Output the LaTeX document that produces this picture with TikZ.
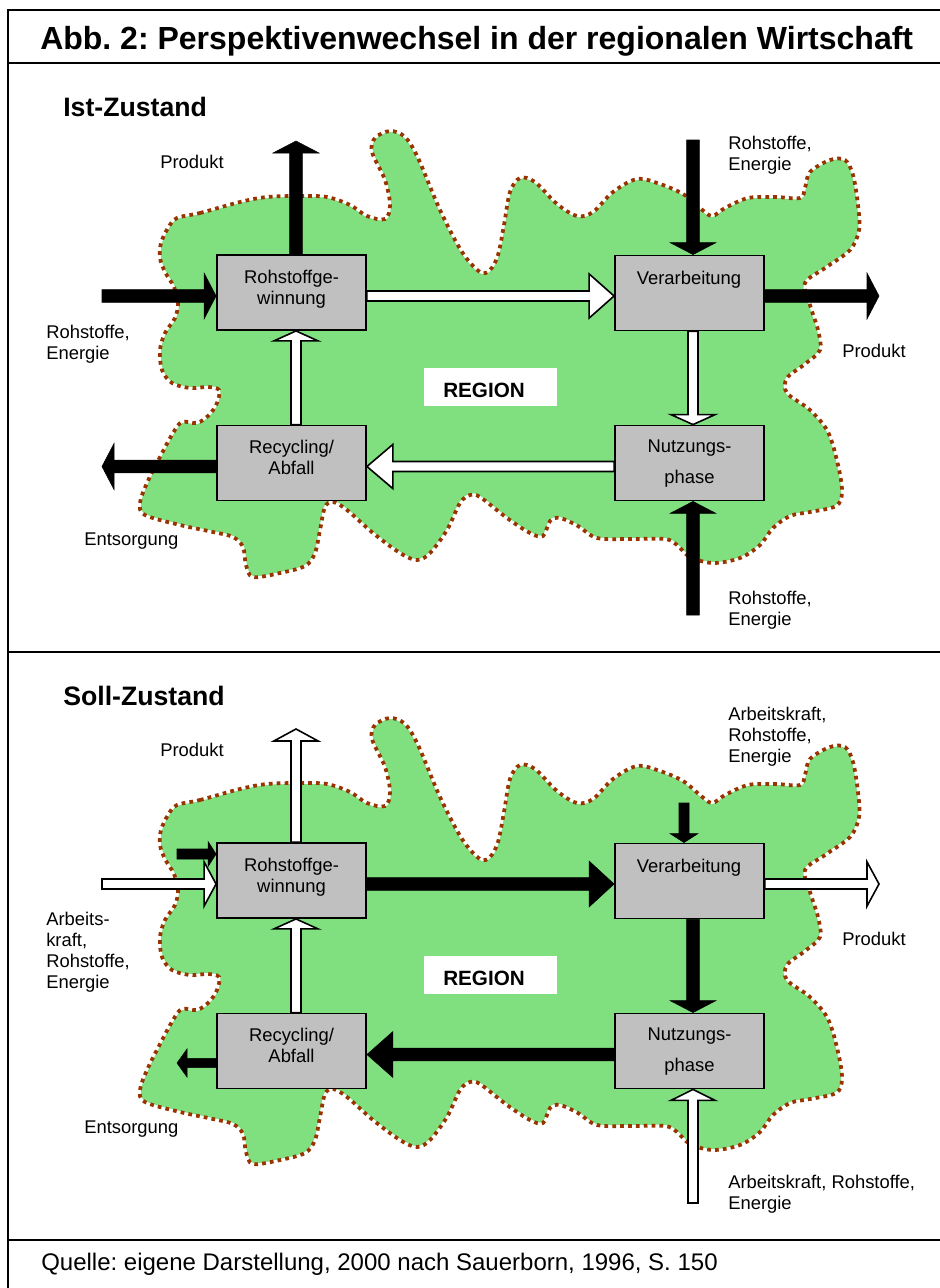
\documentclass[tikz,border=0pt]{standalone}
\usepackage{fontspec}
\setmainfont{Liberation Sans}
\usetikzlibrary{calc}
\frenchspacing
\definecolor{blobgreen}{RGB}{128,224,128}
\definecolor{dotbrown}{RGB}{153,51,0}
\definecolor{boxgray}{RGB}{192,192,192}
\pgfdeclarelayer{background}
\pgfdeclarelayer{foreground}
\pgfsetlayers{background,main,foreground}

% block arrow: #1 style, #2 start, #3 tip, #4 half shaft width, #5 half head width, #6 head length
\newcommand{\blockarrow}[6]{%
  \coordinate (bahead) at ($(#3)!#6!(#2)$);
  \draw[#1] ($(#2)!#4!90:(#3)$) -- ($(bahead)!#4!-90:(#2)$) -- ($(bahead)!#5!-90:(#2)$) -- (#3)
     -- ($(bahead)!#5!90:(#2)$) -- ($(bahead)!#4!90:(#2)$) -- ($(#2)!#4!-90:(#3)$) -- cycle;
}

\newcommand{\regionblob}[1]{%
  \path[shift={(0,#1)}, fill=blobgreen,
        postaction={draw=white, line width=1.4pt},
        postaction={draw=dotbrown, line width=2.8pt, dash pattern=on 2.8pt off 3.1pt}]
  plot[smooth cycle, tension=0.55] coordinates {
   (177,218) (200,213) (240,202) (267,197) (300,196) (327,197) (350,205) (367,216) (385,219)
   (390,205) (385,180) (372,152) (375,138) (390,131) (405,137) (418,158) (440,210) (462,252)
   (480,272) (490,270) (498,255) (504,225) (510,192) (520,178) (535,182) (557,204) (577,216)
   (593,212) (613,192) (637,179) (660,184) (683,194) (700,208) (712,216) (725,208) (748,198)
   (775,197) (800,198) (805,188) (810,172) (830,160) (845,160) (853,175) (858,205) (859,230)
   (850,250) (825,268) (805,283) (810,305) (818,330) (820,350) (805,364) (787,378) (787,393)
   (810,410) (828,432) (838,465) (842,492) (836,506) (810,512) (790,516) (773,528) (760,545)
   (740,558) (713,563) (690,557) (677,545) (665,539) (630,539) (597,538) (578,526) (560,518)
   (550,521) (543,536) (530,533) (507,518) (480,497) (470,495) (460,503) (447,530) (430,553)
   (417,560) (400,553) (373,533) (347,510) (333,502) (325,507) (320,530) (315,553) (305,566)
   (280,573) (253,577) (246,565) (243,547) (233,537) (213,532) (180,525) (145,515) (140,503)
   (147,483) (160,457) (173,433) (182,422) (197,423) (209,415) (217,403) (219,390) (208,387)
   (190,388) (172,383) (162,370) (160,350) (165,333) (175,318) (178,303) (174,287) (165,272)
   (160,258) (161,243) (168,228)};
}

\tikzset{
  frame/.style={draw=black, line width=1.4pt},
  bx/.style={draw=black, line width=1.4pt, fill=boxgray, minimum width=111.75pt, minimum height=56.25pt, inner sep=0pt},
  btxt/.style={font=\fontsize{13.8}{15.75}\selectfont, inner sep=0pt, align=center, anchor=north},
  lbl/.style={font=\fontsize{13.8}{15.75}\selectfont, inner sep=0pt, align=left, anchor=north west},
  blk/.style={fill=black},
  wht/.style={fill=white, draw=black, line width=1.2pt},
  regbox/.style={fill=white, minimum width=99.75pt, minimum height=28.5pt, inner sep=0pt},
  regtxt/.style={font=\fontsize{15.5}{18}\selectfont\bfseries, inner sep=0pt, anchor=base west},
  heading/.style={font=\fontsize{20}{24}\selectfont\bfseries, inner sep=0pt, anchor=base west}
}

\begin{document}
\begin{tikzpicture}[x=0.75pt, y=-0.75pt]
\useasboundingbox (0,0) rectangle (939,1288);

% frame
\draw[frame] (8,1290) -- (8,10) -- (950,10);
\draw[frame] (8,63) -- (950,63);
\draw[frame] (8,652) -- (950,652);
\draw[frame] (8,1240) -- (950,1240);

\node[inner sep=0pt, anchor=base west, font=\fontsize{24}{28}\selectfont\bfseries] (title) at (40,50)
  {Abb. 2: Perspektivenwechsel in der regionalen Wirtschaft};
\node[inner sep=0pt, anchor=base west, font=\fontsize{18}{22}\selectfont] (quelle) at (41,1270)
  {Quelle: eigene Darstellung, 2000 nach Sauerborn, 1996, S. 150};

\node[heading] (ist) at (63,117) {Ist-Zustand};
\node[heading] (soll) at (63,705) {Soll-Zustand};

% regions
\begin{pgfonlayer}{background}
  \regionblob{0}
  \regionblob{587}
  \node[regbox] (reg1) at (490.5,387) {};
  \node[regbox] (reg2) at (490.5,975) {};
\end{pgfonlayer}
\node[regtxt] (reg1t) at (443,397) {REGION};
\node[regtxt] (reg2t) at (443,985) {REGION};

% boxes
\begin{pgfonlayer}{foreground}
  \node[bx] (rw) at (291.5,292.5) {};
  \node[bx] (vb) at (689.5,293) {};
  \node[bx] (rc) at (291.5,463) {};
  \node[bx] (nu) at (689.5,463) {};
  \node[btxt] (rwt) at (291.5,270) {Rohstoffge-\\winnung};
  \node[btxt] (vbt) at (689,270.5) {Verarbeitung};
  \node[btxt] (rct) at (291.5,439.5) {Recycling/\\Abfall};
  \node[btxt] (nut) at (689.5,439.5) {Nutzungs-\\[7.5pt]phase};

  \node[bx] (rw2) at (291.5,880.5) {};
  \node[bx] (vb2) at (689.5,881) {};
  \node[bx] (rc2) at (291.5,1051) {};
  \node[bx] (nu2) at (689.5,1051) {};
  \node[btxt] (rw2t) at (291.5,858) {Rohstoffge-\\winnung};
  \node[btxt] (vb2t) at (689,858.5) {Verarbeitung};
  \node[btxt] (rc2t) at (291.5,1027.5) {Recycling/\\Abfall};
  \node[btxt] (nu2t) at (689.5,1027.5) {Nutzungs-\\[7.5pt]phase};
\end{pgfonlayer}

% labels Ist
\node[lbl] (l1) at (160,155) {Produkt};
\node[lbl] (l2) at (728,136) {Rohstoffe,\\Energie};
\node[lbl] (l3) at (46,325) {Rohstoffe,\\Energie};
\node[lbl] (l4) at (842,344) {Produkt};
\node[lbl] (l5) at (84,533) {Entsorgung};
\node[lbl] (l6) at (728,591) {Rohstoffe,\\Energie};
% labels Soll
\node[lbl] (m1) at (160,743) {Produkt};
\node[lbl] (m2) at (728,707) {Arbeitskraft,\\Rohstoffe,\\Energie};
\node[lbl] (m3) at (46,912) {Arbeits-\\kraft,\\Rohstoffe,\\Energie};
\node[lbl] (m4) at (842,932) {Produkt};
\node[lbl] (m5) at (84,1121) {Entsorgung};
\node[lbl] (m6) at (728,1175) {Arbeitskraft, Rohstoffe,\\Energie};

% free arrow ends
\coordinate (i1e) at (296,141);
\coordinate (i2s) at (102,296);
\coordinate (i4s) at (693,140);
\coordinate (i5e) at (879,296);
\coordinate (i7s) at (693,615);
\coordinate (i9e) at (102,466.5);

\coordinate (s1e) at (296,729);
\coordinate (s2s) at (102,884);
\coordinate (s3s) at (177,854);
\coordinate (s5s) at (684,803);
\coordinate (s6e) at (879,884);
\coordinate (s8s) at (693,1203);
\coordinate (s10e) at (177,1063);

% box anchors used by arrows
\coordinate (rwN) at ($(rw.north)+(4.5,0)$);
\coordinate (rwS) at ($(rw.south)+(4.5,0)$);
\coordinate (rwW) at ($(rw.west)+(0,3.5)$);
\coordinate (rwE) at ($(rw.east)+(0,3.5)$);
\coordinate (vbN) at ($(vb.north)+(3.5,0)$);
\coordinate (vbS) at ($(vb.south)+(3.5,0)$);
\coordinate (vbW) at ($(vb.west)+(0,3)$);
\coordinate (vbE) at ($(vb.east)+(0,3)$);
\coordinate (nuN) at ($(nu.north)+(3.5,0)$);
\coordinate (nuS) at ($(nu.south)+(3.5,0)$);
\coordinate (nuW) at ($(nu.west)+(0,3.5)$);
\coordinate (rcN) at ($(rc.north)+(4.5,0)$);
\coordinate (rcE) at ($(rc.east)+(0,3.5)$);
\coordinate (rcW) at ($(rc.west)+(0,3.5)$);

\coordinate (rw2N) at ($(rw2.north)+(4.5,0)$);
\coordinate (rw2S) at ($(rw2.south)+(4.5,0)$);
\coordinate (rw2W) at ($(rw2.west)+(0,3.5)$);
\coordinate (rw2Wt) at ($(rw2.west)+(0,-26.5)$);
\coordinate (rw2E) at ($(rw2.east)+(0,3.5)$);
\coordinate (vb2N) at ($(vb2.north)+(-5.5,0)$);
\coordinate (vb2S) at ($(vb2.south)+(3.5,0)$);
\coordinate (vb2W) at ($(vb2.west)+(0,3)$);
\coordinate (vb2E) at ($(vb2.east)+(0,3)$);
\coordinate (nu2N) at ($(nu2.north)+(3.5,0)$);
\coordinate (nu2S) at ($(nu2.south)+(3.5,0)$);
\coordinate (nu2W) at ($(nu2.west)+(0,3.5)$);
\coordinate (rc2N) at ($(rc2.north)+(4.5,0)$);
\coordinate (rc2E) at ($(rc2.east)+(0,3.5)$);
\coordinate (rc2W) at ($(rc2.west)+(0,12)$);

% Ist arrows
\blockarrow{blk}{rwN}{i1e}{4.7pt}{17.25pt}{9pt}
\blockarrow{blk}{i2s}{rwW}{4.7pt}{17.25pt}{9pt}
\blockarrow{wht}{rwE}{vbW}{3.75pt}{16.6pt}{18.75pt}
\blockarrow{blk}{i4s}{vbN}{4.7pt}{17.25pt}{9pt}
\blockarrow{blk}{vbE}{i5e}{4.7pt}{17.25pt}{9pt}
\blockarrow{wht}{vbS}{nuN}{3.75pt}{16.6pt}{7.5pt}
\blockarrow{blk}{i7s}{nuS}{4.7pt}{17.25pt}{9pt}
\blockarrow{wht}{nuW}{rcE}{3.75pt}{16.6pt}{19.5pt}
\blockarrow{blk}{rcW}{i9e}{4.7pt}{17.25pt}{9pt}
\blockarrow{wht}{rcN}{rwS}{3.75pt}{16.6pt}{7.5pt}

% Soll arrows
\blockarrow{wht}{rw2N}{s1e}{3.75pt}{16.6pt}{9pt}
\blockarrow{wht}{s2s}{rw2W}{3.75pt}{16.6pt}{9pt}
\blockarrow{blk}{s3s}{rw2Wt}{3.75pt}{9.4pt}{6pt}
\blockarrow{blk}{rw2E}{vb2W}{4.7pt}{17.25pt}{18.75pt}
\blockarrow{blk}{s5s}{vb2N}{3.75pt}{10.5pt}{6.75pt}
\blockarrow{wht}{vb2E}{s6e}{3.75pt}{16.6pt}{9pt}
\blockarrow{blk}{vb2S}{nu2N}{4.7pt}{17.25pt}{9pt}
\blockarrow{wht}{s8s}{nu2S}{3.75pt}{16.6pt}{8.25pt}
\blockarrow{blk}{nu2W}{rc2E}{4.7pt}{17.25pt}{19.5pt}
\blockarrow{blk}{rc2W}{s10e}{3.4pt}{10.5pt}{7.5pt}
\blockarrow{wht}{rc2N}{rw2S}{3.75pt}{16.6pt}{7.5pt}

\end{tikzpicture}
\end{document}
